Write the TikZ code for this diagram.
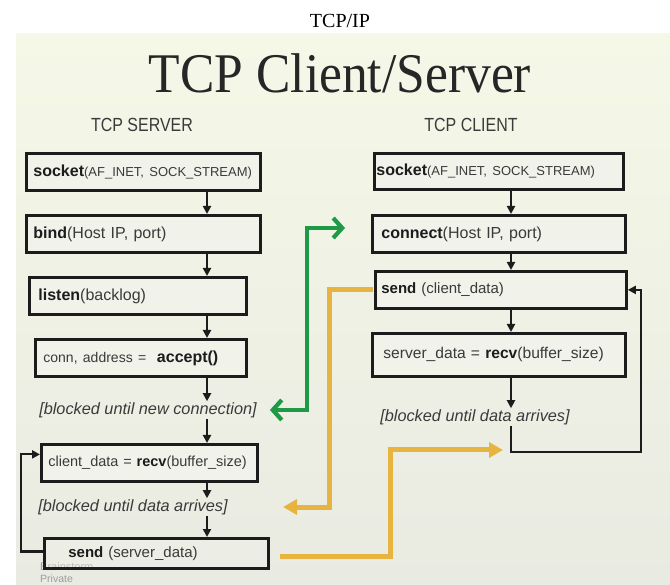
\documentclass[tikz,border=0pt]{standalone}
\usepackage{fontspec}
\setmainfont{Liberation Serif}
\setsansfont{Liberation Sans}
\usetikzlibrary{arrows.meta}

\definecolor{slidetop}{HTML}{F5F7E7}
\definecolor{slidebot}{HTML}{E9EBE2}
\definecolor{boxline}{HTML}{1C1C1C}
\definecolor{boxfill}{HTML}{F1F2EA}
\definecolor{txt}{HTML}{3A3A3A}
\definecolor{fn}{HTML}{1C1C1C}
\definecolor{grn}{HTML}{1E9A46}
\definecolor{gold}{HTML}{E8B440}
\definecolor{wmark}{HTML}{9C9C9C}

\newcommand{\setfs}[1]{\fontsize{#1}{#1}\selectfont}
\newcommand{\fnc}[1]{{\bfseries\color{fn}#1}}

\begin{document}
\frenchspacing
\begin{tikzpicture}[x=1pt,y=-1pt,
  box/.style={draw=boxline, line width=2.8pt, fill=boxfill, rectangle,
    anchor=north west, inner ysep=0pt, align=left, text=txt,
    font=\sffamily\setfs{16}},
  note/.style={font=\sffamily\itshape\setfs{16.3}, text=txt,
    inner xsep=0pt, inner ysep=1pt},
  heading/.style={font=\sffamily\setfs{19}, text=txt},
  flow/.style={draw=boxline, line width=2.2pt,
    -{Triangle[length=8pt,width=8pt]}},
  greenlink/.style={draw=grn, line width=4.2pt,
    {Straight Barb[length=9pt,width=20pt]}-{Straight Barb[length=9pt,width=20pt]}},
  goldlink/.style={draw=gold, line width=5pt,
    -{Triangle[length=14pt,width=15pt]}}]

\useasboundingbox (0,0) rectangle (670,585);
\fill[white] (0,0) rectangle (670,585);
% slide background
\fill[top color=slidetop, bottom color=slidebot] (16,34) rectangle (670,585);

% titles
\node[font=\rmfamily\setfs{20}] (caption) at (340,21) {TCP/IP};
\node[anchor=base, font=\rmfamily\setfs{56}, text=black!85] (title) at (340,93)
  {\scalebox{0.92}[1]{TCP Client/Server}};
\node[heading] (srvhead) at (142,125) {\scalebox{0.84}[1]{TCP SERVER}};
\node[heading] (clihead) at (471,125) {\scalebox{0.84}[1]{TCP CLIENT}};

% watermark (sits under the last server box)
\node[anchor=west, font=\sffamily\setfs{11}, text=wmark, inner sep=0pt] (wm1) at (40,567) {Brainstorm};
\node[anchor=west, font=\sffamily\setfs{10.5}, text=wmark, inner sep=0pt] (wm2) at (40,579) {Private};

% server side
\node[box, minimum width=234pt, minimum height=37pt, text width=220pt, inner xsep=7pt]
  (s1) at (25,152) {\fnc{socket}{\setfs{13}(AF\_INET, SOCK\_STREAM)}};
\node[box, minimum width=234pt, minimum height=37pt, text width=220pt, inner xsep=7pt]
  (s2) at (25,214) {\fnc{bind}(Host IP, port)};
\node[box, minimum width=217pt, minimum height=37pt, text width=199pt, inner xsep=9pt]
  (s3) at (28,276) {\fnc{listen}(backlog)};
\node[box, minimum width=211pt, minimum height=37pt, text width=195pt, inner xsep=8pt]
  (s4) at (34,338) {{\setfs{14}conn, address =~~}\fnc{accept()}};
\node[note] (b1) at (148,410) {[blocked until new connection]};
\node[box, minimum width=216pt, minimum height=37pt, text width=202pt, inner xsep=7pt,
  font=\sffamily\setfs{14.5}]
  (s5) at (40,443) {client\_data = \fnc{recv}(buffer\_size)};
\node[note] (b2) at (133,507) {[blocked until data arrives]};
\node[box, minimum width=224pt, minimum height=30pt, text width=176pt, inner xsep=24pt,
  fill opacity=0.4, text opacity=1, font=\sffamily\setfs{15}]
  (s6) at (43,537) {\raisebox{3pt}{\fnc{send} (server\_data)}};

% client side
\node[box, minimum width=249pt, minimum height=36pt, text width=245pt, inner xsep=2pt]
  (c1) at (373,152) {\fnc{socket}{\setfs{13}(AF\_INET, SOCK\_STREAM)}};
\node[box, minimum width=253pt, minimum height=37pt, text width=235pt, inner xsep=9pt]
  (c2) at (371,214) {\fnc{connect}(Host IP, port)};
\node[box, minimum width=251pt, minimum height=37pt, text width=239pt, inner xsep=6pt,
  font=\sffamily\setfs{15}]
  (c3) at (374,270) {\fnc{send} (client\_data)};
\node[box, minimum width=253pt, minimum height=43pt, text width=231pt, inner xsep=11pt,
  font=\sffamily\setfs{15.6}]
  (c4) at (371,332) {server\_data = \fnc{recv}(buffer\_size)};
\node[note] (b3) at (475,417) {[blocked until data arrives]};

% columns and turning points
\coordinate (scol) at (207,0);
\coordinate (ccol) at (511,0);
\coordinate (sloop) at (21,0);
\coordinate (cturn) at (641,452);
\coordinate (gx) at (307,228);
\coordinate (o1) at (329,507);
\coordinate (o1tip) at (283,507);
\coordinate (o2) at (390,450);
\coordinate (o2tip) at (503,450);

% server flow
\draw[flow] (s1.south -| scol) -- (s2.north -| scol);
\draw[flow] (s2.south -| scol) -- (s3.north -| scol);
\draw[flow] (s3.south -| scol) -- (s4.north -| scol);
\draw[flow] (s4.south -| scol) -- (b1.north -| scol);
\draw[flow] (b1.south -| scol) -- (s5.north -| scol);
\draw[flow] (s5.south -| scol) -- (b2.north -| scol);
\draw[flow] (b2.south -| scol) -- (s6.north -| scol);
\draw[flow] ([yshift=2pt]s6.west) -- ([yshift=2pt]s6.west -| sloop) |- ([yshift=8.5pt]s5.west);

% client flow
\draw[flow] (c1.south -| ccol) -- (c2.north -| ccol);
\draw[flow] (c2.south -| ccol) -- (c3.north -| ccol);
\draw[flow] (c3.south -| ccol) -- (c4.north -| ccol);
\draw[flow] (c4.south -| ccol) -- (b3.north -| ccol);
\draw[flow] (b3.south -| ccol) |- (cturn) |- (c3.east);

% connection handshake
\draw[greenlink] ([xshift=13pt]b1.east) -| (gx) -- ([xshift=-26pt]c2.west |- gx);

% data exchange
\draw[goldlink, shorten <=1.4pt] (c3.west) -| (o1) -- (o1tip);
\draw[goldlink] ([xshift=10pt,yshift=-3pt]s6.east) -| (o2) -- (o2tip);
\end{tikzpicture}
\end{document}
